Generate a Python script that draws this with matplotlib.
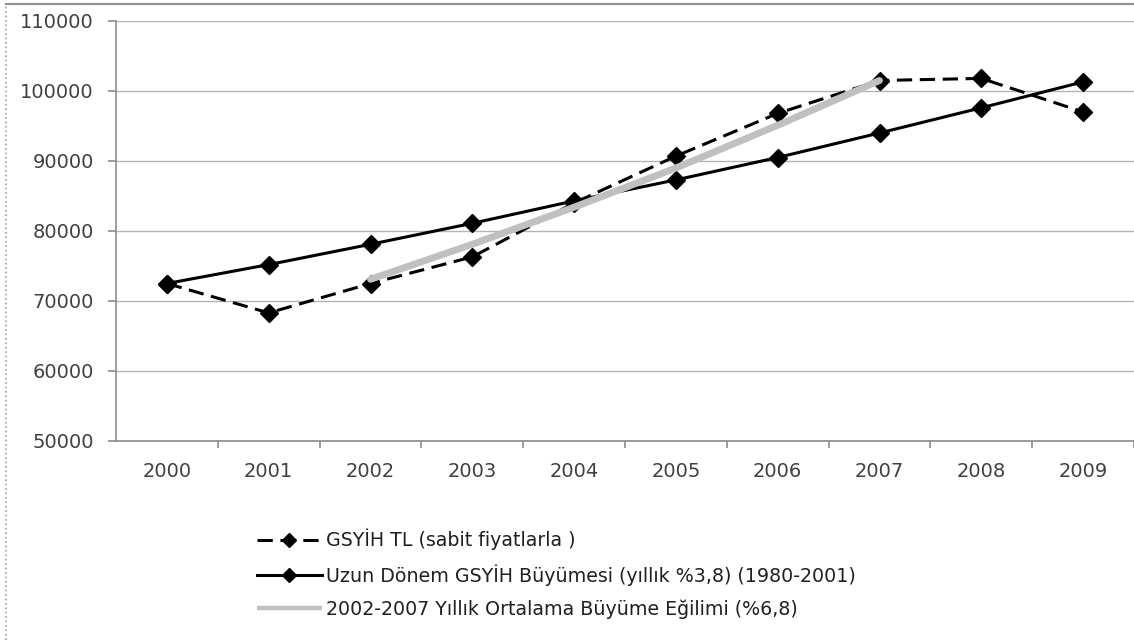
import matplotlib
matplotlib.use("Agg")
import matplotlib.pyplot as plt
from matplotlib.lines import Line2D

# values
years = ['2000', '2001', '2002', '2003', '2004', '2005', '2006', '2007', '2008', '2009']
gsyih = [72500, 68300, 72500, 76300, 84000, 90700, 96800, 101500, 101800, 97000]
uzun_donem = [72500, 75200, 78100, 81100, 84300, 87300, 90500, 94000, 97600, 101300]
trend_years = ['2002', '2003', '2004', '2005', '2006', '2007']
trend = [73100, 78100, 83400, 89000, 95100, 101500]

lbl_gsyih = 'GSYİH TL (sabit fiyatlarla )'
lbl_uzun = 'Uzun Dönem GSYİH Büyümesi (yıllık %3,8) (1980-2001)'
lbl_trend = '2002-2007 Yıllık Ortalama Büyüme Eğilimi (%6,8)'

plt.rcParams['font.family'] = ['DejaVu Sans']
txt = '#404040'
grid_c = '#b4b4b4'
axis_c = '#8c8c8c'

fig = plt.figure(figsize=(11.34, 6.4), dpi=100)
ax = fig.add_axes([116 / 1134, 1 - 441 / 640, 1018 / 1134, 420 / 640])

x = list(range(len(years)))
xt = [years.index(y) for y in trend_years]

l1, = ax.plot(x, gsyih, color='black', lw=2.2, ls=(0, (5, 2.5)),
              marker='D', ms=9.5, zorder=3)
l2, = ax.plot(x, uzun_donem, color='black', lw=2.2, marker='D', ms=9.5, zorder=3)
l3, = ax.plot(xt, trend, color='#c0c0c0', lw=5, solid_capstyle='round', zorder=4)

ax.set_ylim(50000, 110000)
ax.set_yticks(range(50000, 110001, 10000))
ax.set_xlim(-0.5, 9.48)
ax.set_xticks(x)
ax.set_xticklabels(years)
ax.set_xticks([i - 0.5 for i in range(1, 11)], minor=True)

ax.yaxis.grid(True, color=grid_c, lw=1)
ax.set_axisbelow(True)
for s in ['top', 'right']:
    ax.spines[s].set_visible(False)
ax.spines['left'].set_color(axis_c)
ax.spines['bottom'].set_color(axis_c)
ax.spines['left'].set_linewidth(1.2)
ax.spines['bottom'].set_linewidth(1.2)

ax.tick_params(axis='y', length=6, width=1.2, color=axis_c, labelsize=14,
               labelcolor=txt, pad=10)
ax.tick_params(axis='x', which='major', length=0, labelsize=14,
               labelcolor=txt, pad=15)
ax.tick_params(axis='x', which='minor', length=5, width=1.2, color=axis_c)

leg = fig.legend([l1, l2, l3], [lbl_gsyih, lbl_uzun, lbl_trend],
                 loc='upper left', bbox_to_anchor=(257 / 1134, 1 - 529 / 640),
                 frameon=False, fontsize=13.7, handlelength=3.4,
                 handletextpad=0.2, labelspacing=0.72, borderpad=0,
                 borderaxespad=0, numpoints=1, markerscale=0.75)
for t in leg.get_texts():
    t.set_color('#202020')
leg.legend_handles[2].set_linewidth(3.2)
leg.legend_handles[2].set_solid_capstyle('butt')

# outer chart frame (left and top edges visible)
fig.add_artist(Line2D([6 / 1134, 6 / 1134], [0, 1 - 4 / 640],
                      transform=fig.transFigure, color='#a0a0a0', lw=1.2, ls=':'))
fig.add_artist(Line2D([6 / 1134, 1], [1 - 4 / 640, 1 - 4 / 640],
                      transform=fig.transFigure, color='#909090', lw=1.5))

fig.savefig('out.png', dpi=100)
